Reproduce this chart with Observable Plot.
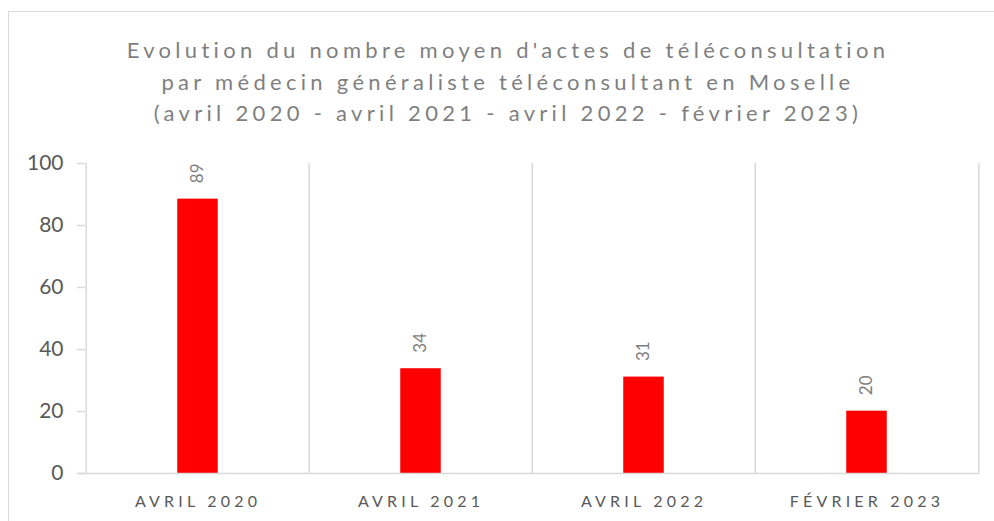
<!DOCTYPE html>
<html>
<head>
<meta charset="utf-8">
<script src="https://cdn.jsdelivr.net/npm/d3@7"></script>
<script src="https://cdn.jsdelivr.net/npm/@observablehq/plot@0.6"></script>
<style>
  html, body { margin: 0; padding: 0; background: #fff; width: 994px; height: 521px; overflow: hidden; }
  #frame { position: absolute; left: 8px; top: 11px; width: 1010px; height: 540px; border: 1.5px solid #d9d9d9; box-sizing: border-box; }
  #title { position: absolute; left: 0; top: 34px; width: 1016px; text-align: center; font-family: Lato, "Open Sans", sans-serif; font-size: 22px; line-height: 31.5px; letter-spacing: 4.3px; color: #7f7f7f; }
  #chart { position: absolute; left: 0; top: 140px; }
</style>
</head>
<body>
<div id="frame"></div>
<div id="title">Evolution du nombre moyen d'actes de téléconsultation<br>par médecin généraliste téléconsultant en Moselle<br>(avril 2020 - avril 2021 - avril 2022 - février 2023)</div>
<div id="chart"></div>
<script>
const categories = ["AVRIL 2020", "AVRIL 2021", "AVRIL 2022", "FÉVRIER 2023"];
const values = [88.5, 33.8, 31.1, 20.1];
const labels = ["89", "34", "31", "20"];
const yTicks = [0, 20, 40, 60, 80, 100];

const data = categories.map((c, i) => ({category: c, value: values[i], label: labels[i]}));

const W = 994, H = 381;
const mL = 85, mR = 15, mT = 23, mB = 48;
const step = (W - mL - mR) / categories.length;
const barW = 41;
const inset = (step - barW) / 2;
const grid = "#d9d9d9";

const plot = Plot.plot({
  width: W,
  height: H,
  marginLeft: mL,
  marginRight: mR,
  marginTop: mT,
  marginBottom: mB,
  style: {fontFamily: "Lato, 'Open Sans', sans-serif", background: "transparent"},
  x: {domain: categories, padding: 0, label: null},
  y: {domain: [0, 100], label: null},
  marks: [
    Plot.ruleX(categories, {x: d => d, y1: 0, y2: 100, dx: -step / 2, stroke: grid, strokeWidth: 1.5}),
    Plot.ruleX([categories[categories.length - 1]], {x: d => d, y1: 0, y2: 100, dx: step / 2, stroke: grid, strokeWidth: 1.5}),
    Plot.barY(data, {x: "category", y: "value", fill: "#ff0000", insetLeft: inset, insetRight: inset}),
    Plot.ruleY([0], {stroke: grid, strokeWidth: 1.5, insetLeft: -8}),
    Plot.axisY({ticks: yTicks, tickSize: 8, tickPadding: 14, stroke: grid, strokeWidth: 1.5, fill: "#595959", fontSize: 21, tickFormat: d => String(d), label: null}),
    Plot.axisX({tickSize: 0, tickPadding: 22, fill: "#595959", fontSize: 16, label: null}),
    Plot.text(data, {x: "category", y: "value", text: "label", rotate: -90, textAnchor: "start", dy: -16, fill: "#7f7f7f", fontSize: 17})
  ]
});
d3.select(plot).selectAll("[aria-label='x-axis tick label'] text").style("letter-spacing", "4.2px");
document.getElementById("chart").append(plot);
</script>
</body>
</html>
